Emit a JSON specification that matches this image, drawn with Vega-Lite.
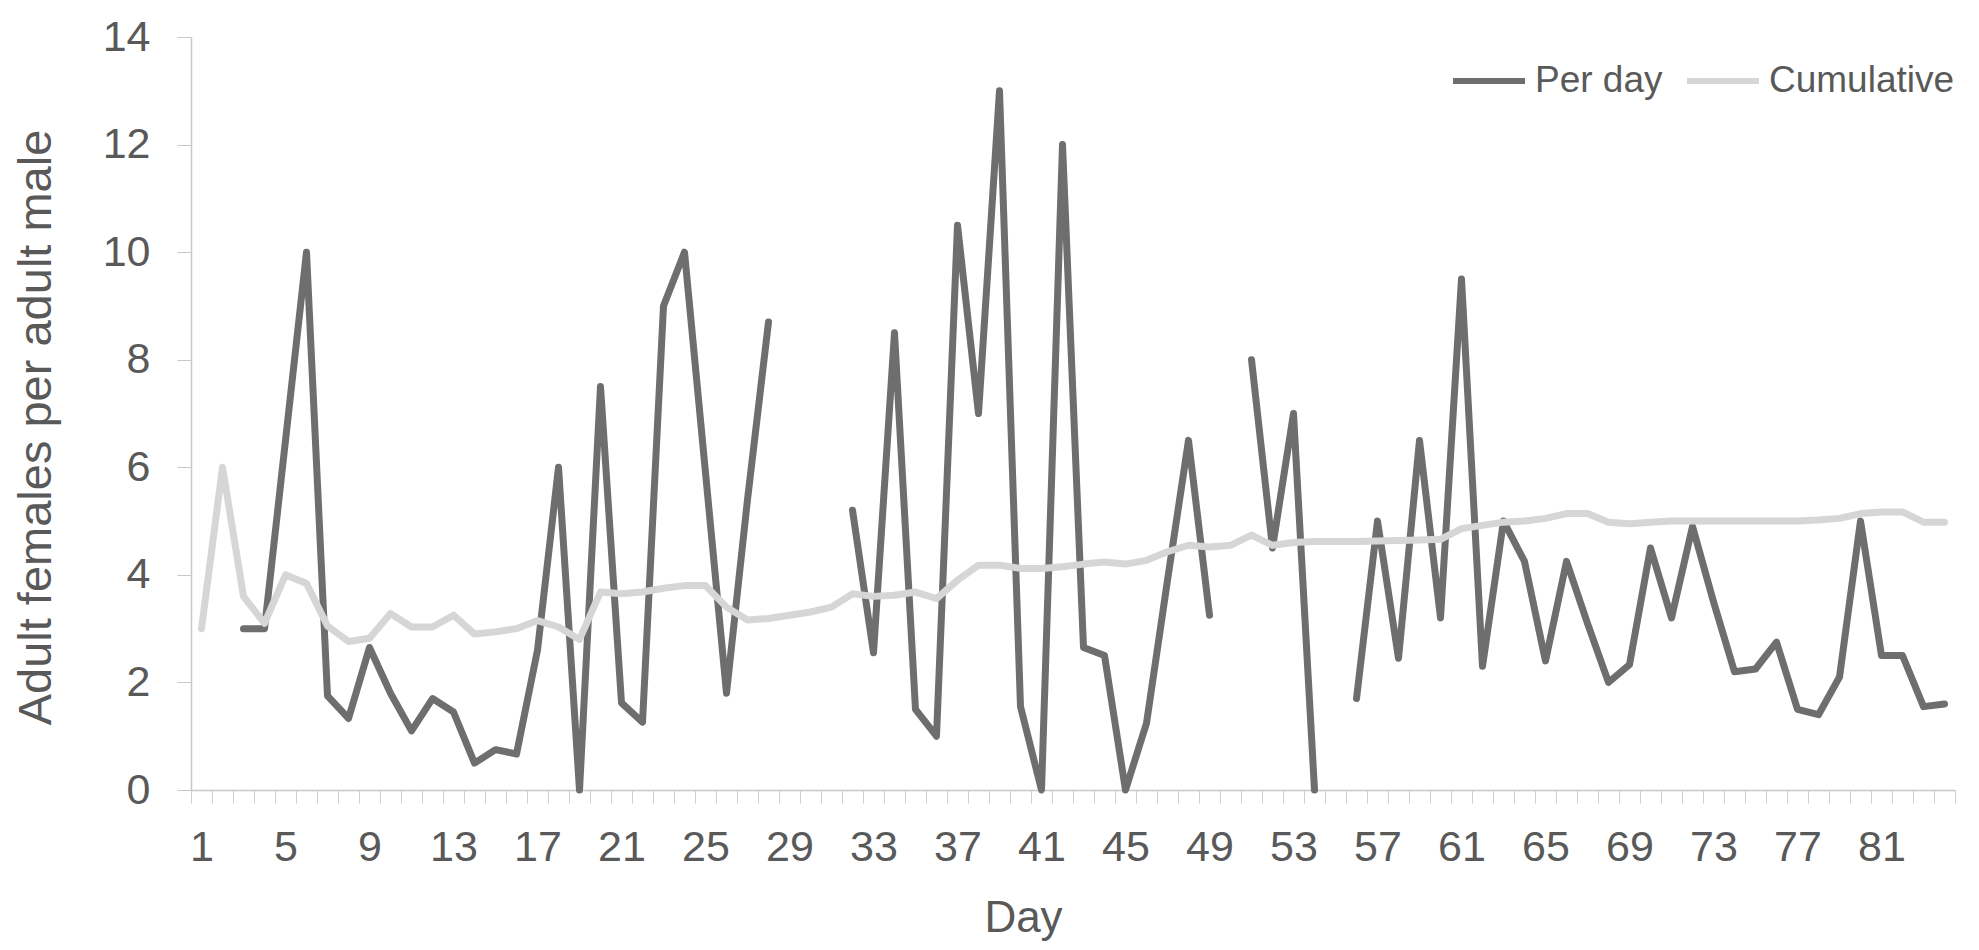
{
  "$schema": "https://vega.github.io/schema/vega-lite/v6.json",
  "width": 1764,
  "height": 753,
  "autosize": {"type": "none"},
  "padding": {"left": 191, "top": 37, "right": 24, "bottom": 160},
  "background": "white",
  "config": {"view": {"stroke": null}, "font": "Liberation Sans"},
  "data": {
    "values": [
      {"day": 1, "perday": null, "cum": 3.0},
      {"day": 2, "perday": null, "cum": 6.0},
      {"day": 3, "perday": 3.0, "cum": 3.6},
      {"day": 4, "perday": 3.0, "cum": 3.1},
      {"day": 5, "perday": 6.5, "cum": 4.0},
      {"day": 6, "perday": 10.0, "cum": 3.84},
      {"day": 7, "perday": 1.75, "cum": 3.05},
      {"day": 8, "perday": 1.33, "cum": 2.76},
      {"day": 9, "perday": 2.65, "cum": 2.82},
      {"day": 10, "perday": 1.8, "cum": 3.28},
      {"day": 11, "perday": 1.1, "cum": 3.03},
      {"day": 12, "perday": 1.7, "cum": 3.03},
      {"day": 13, "perday": 1.45, "cum": 3.25},
      {"day": 14, "perday": 0.5, "cum": 2.9},
      {"day": 15, "perday": 0.75, "cum": 2.94},
      {"day": 16, "perday": 0.67, "cum": 3.0},
      {"day": 17, "perday": 2.6, "cum": 3.15},
      {"day": 18, "perday": 6.0, "cum": 3.03},
      {"day": 19, "perday": 0.0, "cum": 2.8},
      {"day": 20, "perday": 7.5, "cum": 3.68},
      {"day": 21, "perday": 1.62, "cum": 3.65},
      {"day": 22, "perday": 1.26, "cum": 3.68},
      {"day": 23, "perday": 9.0, "cum": 3.75},
      {"day": 24, "perday": 10.0, "cum": 3.8},
      {"day": 25, "perday": 5.9, "cum": 3.8},
      {"day": 26, "perday": 1.8, "cum": 3.4},
      {"day": 27, "perday": 5.4, "cum": 3.16},
      {"day": 28, "perday": 8.7, "cum": 3.19},
      {"day": 29, "perday": null, "cum": 3.25},
      {"day": 30, "perday": null, "cum": 3.31},
      {"day": 31, "perday": null, "cum": 3.4},
      {"day": 32, "perday": 5.2, "cum": 3.65},
      {"day": 33, "perday": 2.55, "cum": 3.6},
      {"day": 34, "perday": 8.5, "cum": 3.62},
      {"day": 35, "perday": 1.5, "cum": 3.68},
      {"day": 36, "perday": 1.0, "cum": 3.56},
      {"day": 37, "perday": 10.5, "cum": 3.9},
      {"day": 38, "perday": 7.0, "cum": 4.18},
      {"day": 39, "perday": 13.0, "cum": 4.18},
      {"day": 40, "perday": 1.55, "cum": 4.12},
      {"day": 41, "perday": 0.0, "cum": 4.12},
      {"day": 42, "perday": 12.0, "cum": 4.15},
      {"day": 43, "perday": 2.65, "cum": 4.2},
      {"day": 44, "perday": 2.5, "cum": 4.24},
      {"day": 45, "perday": 0.0, "cum": 4.2},
      {"day": 46, "perday": 1.24, "cum": 4.27},
      {"day": 47, "perday": 3.9, "cum": 4.43},
      {"day": 48, "perday": 6.5, "cum": 4.55},
      {"day": 49, "perday": 3.25, "cum": 4.52},
      {"day": 50, "perday": null, "cum": 4.55},
      {"day": 51, "perday": 8.0, "cum": 4.74},
      {"day": 52, "perday": 4.5, "cum": 4.55},
      {"day": 53, "perday": 7.0, "cum": 4.6},
      {"day": 54, "perday": 0.0, "cum": 4.62},
      {"day": 55, "perday": null, "cum": 4.62},
      {"day": 56, "perday": 1.7, "cum": 4.62},
      {"day": 57, "perday": 5.0, "cum": 4.63},
      {"day": 58, "perday": 2.45, "cum": 4.64},
      {"day": 59, "perday": 6.5, "cum": 4.65},
      {"day": 60, "perday": 3.2, "cum": 4.66},
      {"day": 61, "perday": 9.5, "cum": 4.86},
      {"day": 62, "perday": 2.3, "cum": 4.92},
      {"day": 63, "perday": 5.0, "cum": 4.98},
      {"day": 64, "perday": 4.25, "cum": 5.0},
      {"day": 65, "perday": 2.4, "cum": 5.05},
      {"day": 66, "perday": 4.25, "cum": 5.14},
      {"day": 67, "perday": 3.1, "cum": 5.14},
      {"day": 68, "perday": 2.0, "cum": 4.98},
      {"day": 69, "perday": 2.33, "cum": 4.95},
      {"day": 70, "perday": 4.5, "cum": 4.98},
      {"day": 71, "perday": 3.2, "cum": 5.0},
      {"day": 72, "perday": 4.9, "cum": 5.0},
      {"day": 73, "perday": 3.5, "cum": 5.0},
      {"day": 74, "perday": 2.2, "cum": 5.0},
      {"day": 75, "perday": 2.25, "cum": 5.0},
      {"day": 76, "perday": 2.75, "cum": 5.0},
      {"day": 77, "perday": 1.5, "cum": 5.0},
      {"day": 78, "perday": 1.4, "cum": 5.02},
      {"day": 79, "perday": 2.1, "cum": 5.05},
      {"day": 80, "perday": 5.0, "cum": 5.14},
      {"day": 81, "perday": 2.5, "cum": 5.17},
      {"day": 82, "perday": 2.5, "cum": 5.17},
      {"day": 83, "perday": 1.55, "cum": 4.98},
      {"day": 84, "perday": 1.6, "cum": 4.98}
    ]
  },
  "resolve": {"axis": {"x": "independent", "y": "independent"}},
  "layer": [
    {
      "mark": {"type": "line", "strokeWidth": 7, "strokeJoin": "round", "strokeCap": "round", "invalid": "break-paths-show-domains"},
      "encoding": {
        "x": {
          "field": "day", "type": "quantitative",
          "scale": {"domain": [0.5, 84.5], "nice": false, "zero": false},
          "axis": {
            "orient": "bottom",
            "values": [1, 5, 9, 13, 17, 21, 25, 29, 33, 37, 41, 45, 49, 53, 57, 61, 65, 69, 73, 77, 81],
            "ticks": false, "tickSize": 0, "grid": false,
            "domain": true, "domainColor": "#c8c8c8", "domainWidth": 1.5,
            "labelFontSize": 43, "labelColor": "#595959", "labelBaseline": "alphabetic", "labelPadding": 70,
            "labelFlush": false, "labelOverlap": false,
            "title": "Day", "titleFontSize": 44, "titleFontWeight": "normal", "titleColor": "#595959",
            "titleBaseline": "alphabetic", "titleAlign": "center", "titleX": 832, "titleY": 141
          }
        },
        "y": {
          "field": "perday", "type": "quantitative",
          "scale": {"domain": [0, 14], "nice": false, "zero": true},
          "axis": {
            "values": [0, 2, 4, 6, 8, 10, 12, 14],
            "grid": false, "ticks": true, "tickSize": 14, "tickColor": "#c8c8c8",
            "domain": true, "domainColor": "#c8c8c8", "domainWidth": 1.5,
            "labelFontSize": 43, "labelColor": "#595959", "labelPadding": 27,
            "title": "Adult females per adult male", "titleFontSize": 47, "titleFontWeight": "normal",
            "titleColor": "#595959", "titleX": -155, "titleY": 390, "titleBaseline": "middle", "titleAlign": "center", "titleAngle": 270
          }
        },
        "color": {
          "datum": "Per day",
          "scale": {"domain": ["Per day", "Cumulative"], "range": ["#6e6e6e", "#d6d6d6"]},
          "legend": {
            "orient": "none", "legendX": 1259, "legendY": 5, "direction": "horizontal",
            "title": null, "symbolType": "stroke", "symbolSize": 5184, "symbolStrokeWidth": 6,
            "labelFontSize": 37, "labelColor": "#595959", "labelOffset": 7, "labelLimit": 0,
            "columnPadding": 12, "padding": 0
          }
        }
      }
    },
    {
      "mark": {"type": "line", "strokeWidth": 7, "strokeJoin": "round", "strokeCap": "round"},
      "encoding": {
        "x": {
          "field": "day", "type": "quantitative",
          "axis": {
            "orient": "bottom",
            "values": [0.5, 1.5, 2.5, 3.5, 4.5, 5.5, 6.5, 7.5, 8.5, 9.5, 10.5, 11.5, 12.5, 13.5, 14.5, 15.5, 16.5, 17.5, 18.5, 19.5, 20.5, 21.5, 22.5, 23.5, 24.5, 25.5, 26.5, 27.5, 28.5, 29.5, 30.5, 31.5, 32.5, 33.5, 34.5, 35.5, 36.5, 37.5, 38.5, 39.5, 40.5, 41.5, 42.5, 43.5, 44.5, 45.5, 46.5, 47.5, 48.5, 49.5, 50.5, 51.5, 52.5, 53.5, 54.5, 55.5, 56.5, 57.5, 58.5, 59.5, 60.5, 61.5, 62.5, 63.5, 64.5, 65.5, 66.5, 67.5, 68.5, 69.5, 70.5, 71.5, 72.5, 73.5, 74.5, 75.5, 76.5, 77.5, 78.5, 79.5, 80.5, 81.5, 82.5, 83.5, 84.5],
            "labels": false, "domain": false, "grid": false, "ticks": true,
            "tickSize": 13, "tickColor": "#cfcfcf", "tickWidth": 1, "title": null
          }
        },
        "y": {"field": "cum", "type": "quantitative", "axis": null},
        "color": {"datum": "Cumulative"}
      }
    }
  ]
}
